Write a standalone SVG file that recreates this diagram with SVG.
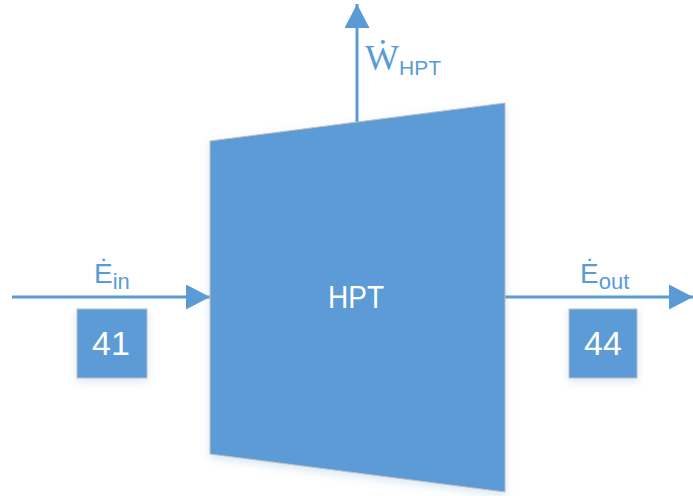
<svg xmlns="http://www.w3.org/2000/svg" width="693" height="496" viewBox="0 0 693 496">
  <defs>
    <filter id="shadow" x="-10%" y="-10%" width="120%" height="125%">
      <feDropShadow dx="0" dy="3" stdDeviation="4" flood-color="#5B9BD5" flood-opacity="0.25"/>
    </filter>
    <marker id="head" viewBox="0 0 24 25" refX="24" refY="12.5" markerWidth="24" markerHeight="25" markerUnits="userSpaceOnUse" orient="auto">
      <path d="M0,0 L24,12.5 L0,25 Z" fill="#5B9BD5"/>
    </marker>
  </defs>
  <style>
    .flow { stroke: #5B9BD5; stroke-width: 3; fill: none; }
    .shape { fill: #5B9BD5; stroke: #BFBFBF; stroke-width: 1; filter: url(#shadow); }
    .lbl { fill: #5B9BD5; font-family: "Liberation Sans", Arial, sans-serif; }
    .white { fill: #FFFFFF; font-family: "Liberation Sans", Arial, sans-serif; text-anchor: middle; }
  </style>
  <rect width="693" height="496" fill="#FFFFFF"/>

  <g id="connectors">
    <line class="flow" x1="357" y1="123" x2="357" y2="4" marker-end="url(#head)"/>
    <line class="flow" x1="12" y1="297" x2="210" y2="297" marker-end="url(#head)"/>
    <line class="flow" x1="505" y1="297" x2="693" y2="297" marker-end="url(#head)"/>
  </g>

  <g id="hpt">
    <polygon class="shape" points="210,141 505,103 505,492 210,454"/>
    <text class="white" x="356" y="308" font-size="32" textLength="56" lengthAdjust="spacingAndGlyphs">HPT</text>
  </g>

  <g id="work-label">
    <text class="lbl" x="365" y="70"><tspan font-family="'Liberation Serif', 'Times New Roman', serif" font-size="36">Ẇ</tspan><tspan font-size="21" dy="5">HPT</tspan></text>
  </g>

  <g id="energy-in-label">
    <text class="lbl" x="94" y="283"><tspan font-size="28">Ė</tspan><tspan font-size="22" dy="6">in</tspan></text>
  </g>

  <g id="energy-out-label">
    <text class="lbl" x="580" y="283"><tspan font-size="28">Ė</tspan><tspan font-size="22" dy="6">out</tspan></text>
  </g>

  <g id="stream-41">
    <rect class="shape" x="77" y="309" width="70" height="69"/>
    <text class="white" x="111" y="355" font-size="34">41</text>
  </g>

  <g id="stream-44">
    <rect class="shape" x="569" y="309" width="68" height="69"/>
    <text class="white" x="603" y="355" font-size="34">44</text>
  </g>
</svg>
